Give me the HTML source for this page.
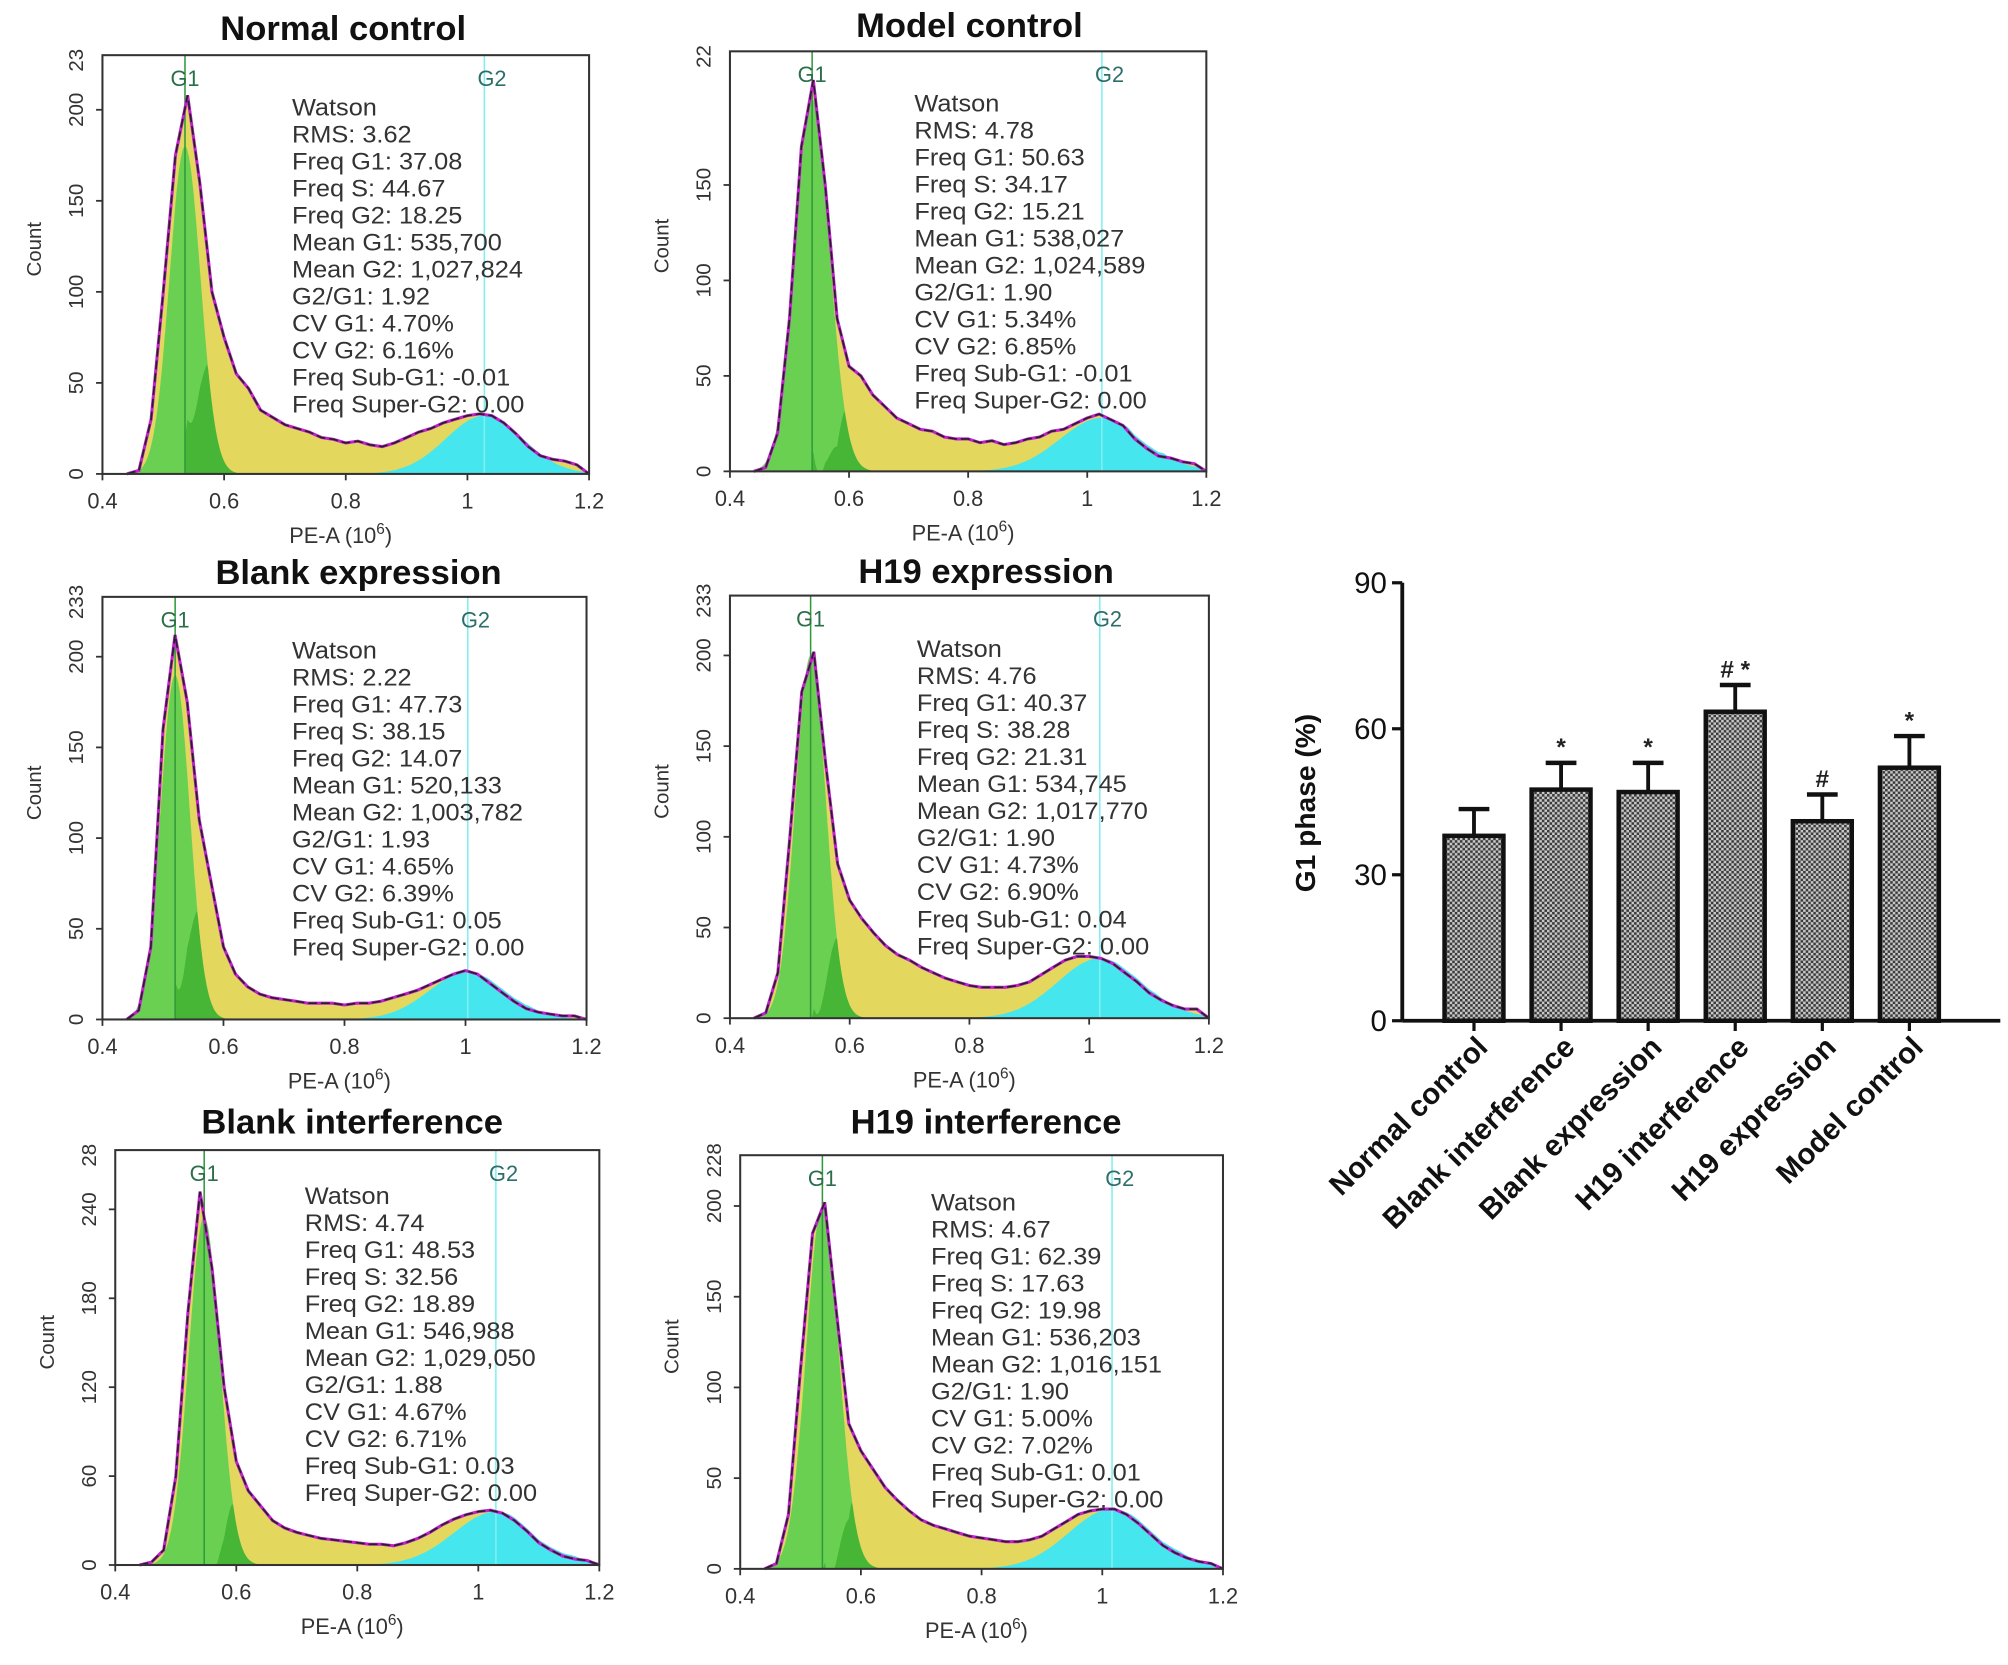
<!DOCTYPE html>
<html><head><meta charset="utf-8"><style>
html,body{margin:0;padding:0;background:#fff;}
svg{display:block;font-family:"Liberation Sans",Arial,sans-serif;}
</style></head><body>
<svg id="fig" width="2008" height="1665" viewBox="0 0 1568 1300" xmlns="http://www.w3.org/2000/svg">
<defs>
<pattern id="dots" width="4" height="4" patternUnits="userSpaceOnUse">
<rect width="4" height="4" fill="#c8c8c8"/><rect width="2" height="2" fill="#3a3a3a"/><rect x="2" y="2" width="2" height="2" fill="#3a3a3a"/>
</pattern>
</defs>
</svg>
<script>
// ---------- histogram data (counts sampled at PE-A 0.44..1.20 step 0.02) ----------
const binX = [0.44,0.46,0.48,0.50,0.52,0.54,0.56,0.58,0.60,0.62,0.64,0.66,0.68,0.70,0.72,0.74,0.76,0.78,0.80,0.82,0.84,0.86,0.88,0.90,0.92,0.94,0.96,0.98,1.00,1.02,1.04,1.06,1.08,1.10,1.12,1.14,1.16,1.18,1.20];
const countsNormal = [0,2,30,100,175,208,160,100,75,55,47,35,31,27,25,23,20,19,17,18,16,15,17,20,23,25,28,30,32,33,32,28,22,15,10,8,7,5,0];
const countsModel = [0,2,20,80,170,205,150,80,55,50,40,34,28,25,22,21,18,17,17,15,16,14,15,17,18,21,22,25,28,30,27,24,17,12,8,7,5,4,0];
const countsBlankExp = [0,5,40,160,212,175,110,75,40,25,18,14,12,11,10,9,9,9,8,9,9,10,12,14,16,19,22,25,27,25,20,15,10,6,4,3,2,2,0];
const countsH19Exp = [0,3,25,100,180,202,140,85,65,55,47,40,35,32,28,25,22,20,18,17,17,17,18,20,24,28,32,34,34,33,30,25,20,14,10,7,5,5,0];
const countsBlankInt = [0,2,10,60,170,252,200,120,70,50,40,30,25,22,20,18,17,16,15,14,14,13,15,18,22,27,31,34,36,37,35,30,23,15,10,6,4,3,0];
const countsH19Int = [0,3,30,110,185,202,140,80,65,55,45,38,32,27,24,22,20,18,17,16,15,15,16,18,22,26,30,32,33,33,30,25,19,13,9,6,4,3,0];
// fitted G1 / G2 peak heights
const g1Heights = [180,195,190,200,235,200];
const g2Heights = [32,28,26,33,36,33];
const panelTitles = ["Normal control","Model control","Blank expression","H19 expression","Blank interference","H19 interference"];
const yMaxes = [230,220,233,233,280,228];
const yTicks1 = [0,50,100,150,200];
const yTicks2 = [0,50,100,150];
const yTicks5 = [0,60,120,180,240];
const xTickValues = [0.4,0.6,0.8,1,1.2];
const xTickLabels = ["0.4","0.6","0.8","1","1.2"];
const rms = ["3.62","4.78","2.22","4.76","4.74","4.67"];
const freqG1 = ["37.08","50.63","47.73","40.37","48.53","62.39"];
const freqS = ["44.67","34.17","38.15","38.28","32.56","17.63"];
const freqG2 = ["18.25","15.21","14.07","21.31","18.89","19.98"];
const meanG1 = ["535,700","538,027","520,133","534,745","546,988","536,203"];
const meanG2 = ["1,027,824","1,024,589","1,003,782","1,017,770","1,029,050","1,016,151"];
const ratio = ["1.92","1.90","1.93","1.90","1.88","1.90"];
const cvG1 = ["4.70","5.34","4.65","4.73","4.67","5.00"];
const cvG2 = ["6.16","6.85","6.39","6.90","6.71","7.02"];
const subG1 = ["-0.01","-0.01","0.05","0.04","0.03","0.01"];
const superG2 = ["0.00","0.00","0.00","0.00","0.00","0.00"];

// ---------- bar chart data ----------
const barCategories = ["Normal control","Blank interference","Blank expression","H19 interference","H19 expression","Model control"];
const barValues = [38,47.5,47,63.5,41,52];
const barErrors = [5.5,5.5,6,5.5,5.5,6.5];
const barMarks = ["","*","*","# *","#","*"];
const barTicks = [0,30,60,90];

const NS = "http://www.w3.org/2000/svg";
const svg = document.getElementById('fig');
function el(tag, attrs, parent, text){
  const e = document.createElementNS(NS, tag);
  for (const k in attrs) e.setAttribute(k, attrs[k]);
  if (text !== undefined) e.textContent = text;
  (parent||svg).appendChild(e);
  return e;
}

// layout (positions only)
const layout = [
  {box:[80,43,460,370], tx:268, ty:22, sx:228, sy:84},
  {box:[570,40,942,368], tx:757, ty:20, sx:714, sy:81},
  {box:[80,466,458,796], tx:280, ty:447, sx:228, sy:508},
  {box:[570,465,944,795], tx:770, ty:446, sx:716, sy:507},
  {box:[90,898,468,1222], tx:275, ty:876, sx:238, sy:934},
  {box:[578,902,955,1225], tx:770, ty:876, sx:727, sy:939}
];
const allCounts = [countsNormal,countsModel,countsBlankExp,countsH19Exp,countsBlankInt,countsH19Int];
const tickSets = [yTicks1,yTicks2,yTicks1,yTicks1,yTicks5,yTicks1];
const topLabels = ["23","22","233","233","28","228"];

function parseMean(s){ return parseFloat(s.replace(/,/g,''))/1e6; }
function gauss(x, m, sd, h){ return h*Math.exp(-0.5*((x-m)/sd)*((x-m)/sd)); }
function interp(counts, v){
  if (v<=binX[0]) return 0;
  if (v>=binX[binX.length-1]) return counts[counts.length-1];
  const i = Math.floor((v-binX[0])/0.02);
  const t = (v-binX[i])/0.02;
  return counts[i]*(1-t)+counts[i+1]*t;
}

for (let p=0;p<6;p++){
  const L = layout[p];
  const [x0,y0,x1,y1] = L.box;
  const g = el('g',{});
  
  
  const xs = v => x0 + (v-0.4)/0.8*(x1-x0);
  const ys = c => y1 - c/yMaxes[p]*(y1-y0);
  const counts = allCounts[p];
  const m1 = parseMean(meanG1[p]), sd1 = m1*parseFloat(cvG1[p])/100;
  const m2 = parseMean(meanG2[p]), sd2 = m2*parseFloat(cvG2[p])/100;

  const t = el('text',{x:L.tx,y:L.ty+9,'text-anchor':'middle','font-size':27,'font-weight':'bold',fill:'#111'},g,panelTitles[p]);
  
  

  let d = 'M'+xs(0.44)+','+y1;
  for (let v=0.44; v<=1.2001; v+=0.004) d += ' L'+xs(v).toFixed(1)+','+ys(interp(counts,v)).toFixed(1);
  d += ' L'+xs(1.2)+','+y1+' Z';
  const yf = el('path',{d:d,fill:'#e3d75e'},g);
  
  
  d = 'M'+xs(0.80)+','+y1;
  for (let v=0.80; v<=1.2001; v+=0.004) d += ' L'+xs(v).toFixed(1)+','+ys(Math.min(gauss(v,m2,sd2,g2Heights[p]), interp(counts,v)+2)).toFixed(1);
  d += ' L'+xs(1.2)+','+y1+' Z';
  const cf = el('path',{d:d,fill:'#46e6ee'},g);
  
  
  d = 'M'+xs(0.44)+','+y1;
  for (let v=0.44; v<=0.66; v+=0.002) d += ' L'+xs(v).toFixed(1)+','+ys(gauss(v,m1,sd1,g1Heights[p])).toFixed(1);
  d += ' L'+xs(0.66)+','+y1+' Z';
  const gf = el('path',{d:d,fill:'#5fcf50','fill-opacity':0.92},g);
  
  
  d = 'M'+xs(m1)+','+y1;
  for (let v=m1; v<=0.66; v+=0.002){
    const s = Math.max(0, Math.min(interp(counts,v)-gauss(v,m1,sd1,g1Heights[p]), gauss(v,m1,sd1,g1Heights[p])));
    d += ' L'+xs(v).toFixed(1)+','+ys(s).toFixed(1);
  }
  d += ' L'+xs(0.66)+','+y1+' Z';
  el('path',{d:d,fill:'#3fae2e','fill-opacity':0.8},g);

  el('line',{x1:xs(m1),y1:y0,x2:xs(m1),y2:y1,stroke:'#2f9a3a','stroke-width':1.2},g);
  el('line',{x1:xs(m2),y1:y0,x2:xs(m2),y2:y1,stroke:'#7ff0f0','stroke-width':1.2},g);
  el('text',{x:xs(m1),y:y0+24,'text-anchor':'middle','font-size':17,fill:'#2c6e4a'},g,'G1');
  el('text',{x:xs(m2)+6,y:y0+24,'text-anchor':'middle','font-size':17,fill:'#2c6e6a'},g,'G2');

  d = '';
  for (let i=0;i<binX.length;i++) d += (i?' L':'M')+xs(binX[i]).toFixed(1)+','+ys(counts[i]).toFixed(1);
  el('path',{d:d,fill:'none',stroke:'#c21fd0','stroke-width':2.4},g);
  const ln = el('path',{d:d,fill:'none',stroke:'#222','stroke-width':1.3,'stroke-dasharray':'7 3'},g);
  
  

  el('rect',{x:x0,y:y0,width:x1-x0,height:y1-y0,fill:'none',stroke:'#333','stroke-width':1.6},g);
  tickSets[p].forEach(v=>{
    const y = ys(v);
    el('line',{x1:x0-5,y1:y,x2:x0,y2:y,stroke:'#333','stroke-width':1.4},g);
    el('text',{x:x0-15,y:y,'text-anchor':'middle','font-size':16,fill:'#333',transform:'rotate(-90 '+(x0-15)+' '+y+')'},g,String(v));
  });
  el('text',{x:x0-15,y:y0+4,'text-anchor':'middle','font-size':16,fill:'#333',transform:'rotate(-90 '+(x0-15)+' '+(y0+4)+')'},g,topLabels[p]);
  const cy = (y0+y1)/2 - 12;
  el('text',{x:x0-48,y:cy,'text-anchor':'middle','font-size':16,fill:'#333',transform:'rotate(-90 '+(x0-48)+' '+cy+')'},g,'Count');
  xTickValues.forEach((v,i)=>{
    const x = xs(v);
    el('line',{x1:x,y1:y1,x2:x,y2:y1+5,stroke:'#333','stroke-width':1.4},g);
    el('text',{x:x,y:y1+27,'text-anchor':'middle','font-size':17,fill:'#333'},g,xTickLabels[i]);
  });
  const xl = el('text',{x:(x0+x1)/2-4,y:y1+54,'text-anchor':'middle','font-size':17,fill:'#333'},g);
  xl.appendChild(document.createTextNode('PE-A  (10'));
  el('tspan',{'font-size':12,dy:-7},xl,'6');
  el('tspan',{dy:7},xl,')');

  const lines = ['Watson','RMS: '+rms[p],'Freq G1: '+freqG1[p],'Freq S: '+freqS[p],'Freq G2: '+freqG2[p],
    'Mean G1: '+meanG1[p],'Mean G2: '+meanG2[p],'G2/G1: '+ratio[p],'CV G1: '+cvG1[p]+'%','CV G2: '+cvG2[p]+'%',
    'Freq Sub-G1: '+subG1[p],'Freq Super-G2: '+superG2[p]];
  const st = el('g',{},g);
  
  
  lines.forEach((s,i)=>{
    el('text',{x:L.sx,y:L.sy+i*21.1+6,'font-size':18.5,fill:'#333',transform:'translate('+L.sx+' 0) scale(1.07 1) translate('+(-L.sx)+' 0)'},st,s);
  });
}

// ---------- bar chart ----------
const bx0 = 1095, by0 = 797, byTop = 455, bxEnd = 1562;
const bys = v => by0 - v/90*(by0-byTop);
const bxs = i => 1151 + i*68;
const bc = el('g',{});


barValues.forEach((v,i)=>{
  const cx = bxs(i), w = 46;
  const top = bys(v), etop = bys(v+barErrors[i]);
  el('line',{x1:cx,y1:top,x2:cx,y2:etop,stroke:'#111','stroke-width':3},bc);
  el('line',{x1:cx-12,y1:etop,x2:cx+12,y2:etop,stroke:'#111','stroke-width':3.5},bc);
  const r = el('rect',{x:cx-w/2,y:top,width:w,height:by0-top,fill:'url(#dots)',stroke:'#111','stroke-width':3.5},bc);
  
  
  if (barMarks[i]) el('text',{x:cx,y:etop-6,'text-anchor':'middle','font-size':19,'font-weight':'bold',fill:'#222'},bc,barMarks[i]);
  el('line',{x1:cx,y1:by0,x2:cx,y2:by0+8,stroke:'#111','stroke-width':2.5},bc);
  const lx = cx+12, ly = by0+22;
  const lt = el('text',{x:lx,y:ly,'text-anchor':'end','font-size':23,'font-weight':'bold',fill:'#111',transform:'rotate(-45 '+lx+' '+ly+')'},bc,barCategories[i]);
  
  
});
el('line',{x1:bx0,y1:byTop,x2:bx0,y2:by0,stroke:'#111','stroke-width':3},bc);
el('line',{x1:bx0,y1:by0,x2:bxEnd,y2:by0,stroke:'#111','stroke-width':3},bc);
barTicks.forEach(v=>{
  const y = bys(v);
  el('line',{x1:bx0-8,y1:y,x2:bx0,y2:y,stroke:'#111','stroke-width':2.5},bc);
  el('text',{x:bx0-12,y:y+8,'text-anchor':'end','font-size':23,fill:'#111'},bc,String(v));
});
const yt = el('text',{x:1027,y:627,'text-anchor':'middle','font-size':22,'font-weight':'bold',fill:'#111',transform:'rotate(-90 1027 627)'},bc,'G1 phase (%)');


</script>
</body></html>
